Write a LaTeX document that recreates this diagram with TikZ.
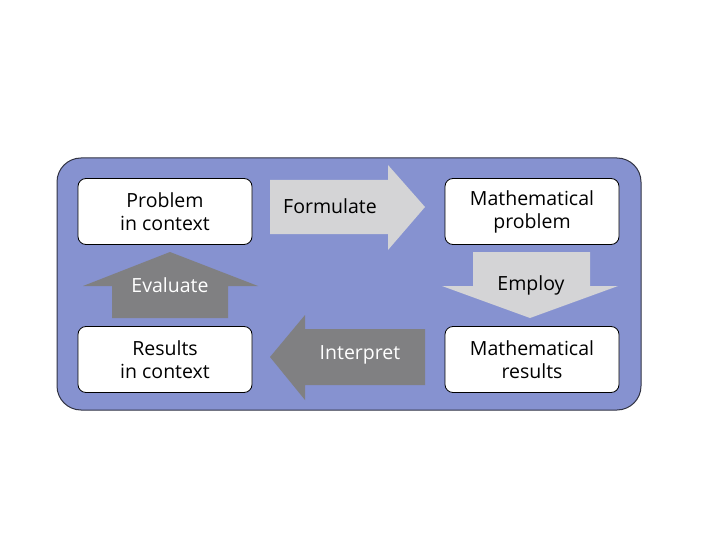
\documentclass[tikz,border=0pt]{standalone}
\usepackage{fontspec}
\setmainfont{Open Sans}
\definecolor{bgblue}{RGB}{134,146,208}
\definecolor{lightarrow}{RGB}{212,212,214}
\definecolor{darkarrow}{RGB}{128,128,130}
\definecolor{frame}{RGB}{50,52,68}
\begin{document}
\begin{tikzpicture}[x=1pt,y=-1pt,
  box/.style={draw=black,line width=0.8pt,fill=white,rounded corners=8pt,minimum width=174pt,minimum height=66pt,align=center,font=\fontsize{19.5}{23}\selectfont},
  lab/.style={font=\fontsize{19.5}{23}\selectfont},
  light/.style={fill=lightarrow},
  dark/.style={fill=darkarrow}]
\useasboundingbox (0,0) rectangle (720,540);
\fill[white] (0,0) rectangle (720,540);
\draw[fill=bgblue,draw=frame,line width=1pt,rounded corners=24pt] (57,158) rectangle (641,410);
% block arrows
\fill[light] (270,180) -- (388,180) -- (388,165) -- (425,207) -- (388,250) -- (388,234) -- (270,234) -- cycle;
\fill[light] (473,252) -- (590,252) -- (590,286) -- (618,286) -- (530,318) -- (442,286) -- (473,286) -- cycle;
\fill[dark] (112,318) -- (228,318) -- (228,286) -- (258,286) -- (170,252) -- (83,286) -- (112,286) -- cycle;
\fill[dark] (425,329) -- (305,329) -- (305,315) -- (270,357) -- (305,400) -- (305,385) -- (425,385) -- cycle;
% labels
\node[lab,text=black] (formulate) at (330,206) {Formulate};
\node[lab,text=black] (employ) at (531,285) {Employ};
\node[lab,text=white] (evaluate) at (170,285) {Evaluate};
\node[lab,text=white] (interpret) at (360,355) {Interpret};
% boxes
\node[box] (pic) at (165,211.5) {Problem\\in context};
\node[box] (mp) at (532,211.5) {Mathematical\\problem};
\node[box] (ric) at (165,359.5) {Results\\in context};
\node[box] (mr) at (532,359.5) {Mathematical\\results};
\end{tikzpicture}
\end{document}
